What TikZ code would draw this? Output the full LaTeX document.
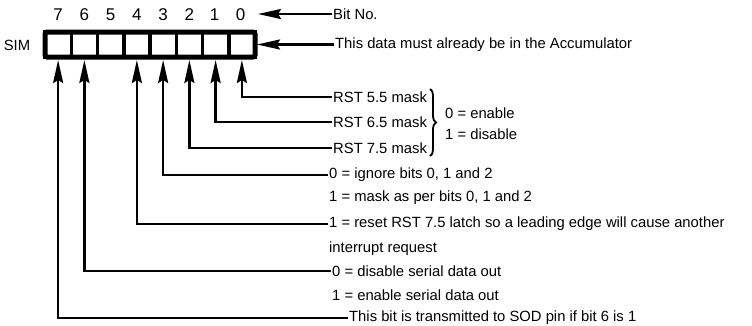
\documentclass[tikz,border=0pt]{standalone}
\usepackage{fontspec}
\setmainfont{Liberation Sans}
\usetikzlibrary{arrows.meta,decorations.pathreplacing}

\tikzset{
  cell/.style={draw, line width=3.5pt, minimum width=26.25pt, minimum height=25pt, inner sep=0pt, outer sep=0pt},
  lbl/.style={anchor=west, inner sep=1pt, font=\fontsize{14.8pt}{17pt}\selectfont},
  bitnum/.style={inner sep=1pt, font=\fontsize{17pt}{19pt}\selectfont},
  conn/.style={line width=2.3pt, -{Stealth[length=23pt,width=10pt,inset=3pt]}, shorten >=3pt}
}

\begin{document}
\begin{tikzpicture}[x=1pt,y=-1pt]
\useasboundingbox (0,0) rectangle (752,325);

%%%%% the register
\node[cell] (c7) at (58.125,44.5) {}; \node[cell] (c6) at (84.375,44.5) {}; \node[cell] (c5) at (110.625,44.5) {}; \node[cell] (c4) at (136.875,44.5) {};
\node[cell] (c3) at (163.125,44.5) {}; \node[cell] (c2) at (189.375,44.5) {}; \node[cell] (c1) at (215.625,44.5) {}; \node[cell] (c0) at (241.875,44.5) {};
\draw[line width=5pt, rounded corners=2pt] (c7.north west) rectangle (c0.south east);

\node[lbl, anchor=center] (sim) at (17,45) {SIM};

\node[bitnum] (n7) at (58.125,15) {7}; \node[bitnum] (n6) at (84.375,15) {6}; \node[bitnum] (n5) at (110.625,15) {5}; \node[bitnum] (n4) at (136.875,15) {4};
\node[bitnum] (n3) at (163.125,15) {3}; \node[bitnum] (n2) at (189.375,15) {2}; \node[bitnum] (n1) at (214.5,15) {1}; \node[bitnum] (n0) at (240.5,15) {0};

\node[lbl] (bitno) at (332,14) {Bit No.};
\node[lbl] (acc) at (334,44.5) {This data must already be in the Accumulator};
\draw[conn] (bitno.west) -- (bitno.west -| c0.east);
\draw[conn, shorten >=2pt] (acc.west) -- (c0.east);

%%%%% interrupt masks
\node[lbl] (t0) at (332,97) {RST 5.5 mask}; \node[lbl] (t1) at (332,122) {RST 6.5 mask}; \node[lbl] (t2) at (332,148) {RST 7.5 mask};
\coordinate (brt) at (430,89); \coordinate (brb) at (430,156);
\draw[decorate, decoration={brace, amplitude=6pt}, line width=1.8pt] (brt) -- (brb);
\node[lbl] (en) at (444,113) {0 = enable}; \node[lbl] (dis) at (444,134) {1 = disable};

\draw[conn] (t0.west) -| (c0.south); \draw[conn] (t1.west) -| (c1.south); \draw[conn] (t2.west) -| (c2.south);

%%%%% mask set enable
\node[lbl] (t3a) at (328,175) {0 = ignore bits 0, 1 and 2}; \node[lbl] (t3b) at (328,198) {1 = mask as per bits 0, 1 and 2};
\draw[conn] (t3a.west) -| (c3.south);

%%%%% reset RST 7.5
\node[lbl] (t4a) at (328,224) {1 = reset RST 7.5 latch so a leading edge will cause another}; \node[lbl] (t4b) at (328,249) {interrupt request};
\draw[conn] (t4a.west) -| (c4.south);

%%%%% serial data
\node[lbl] (t6a) at (331,271) {0 = disable serial data out}; \node[lbl] (t6b) at (331,295) {1 = enable serial data out};
\draw[conn] (t6a.west) -| (c6.south);

\node[lbl] (t7) at (348,318) {This bit is transmitted to SOD pin if bit 6 is 1};
\draw[conn] (t7.west) -| (c7.south);

\end{tikzpicture}
\end{document}
